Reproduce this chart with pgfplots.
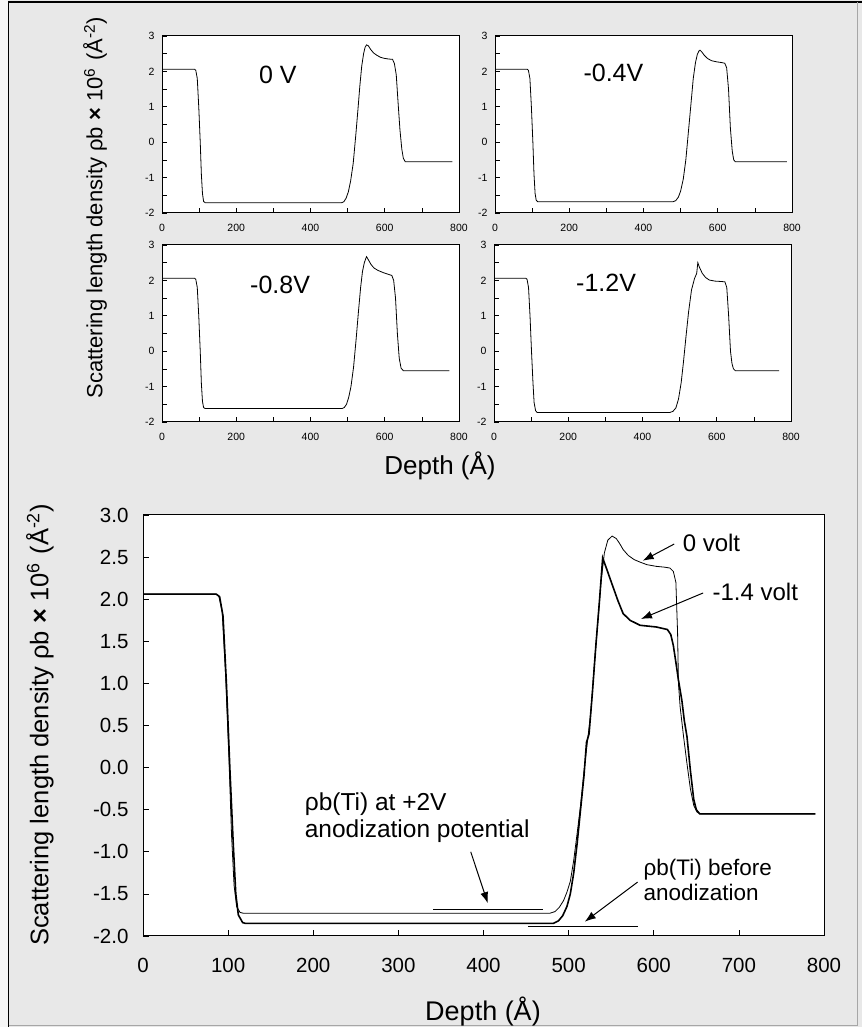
\documentclass[border=0pt]{standalone}
\usepackage{fontspec}
\setmainfont{Liberation Sans}
\usepackage{pgfplots}
\pgfplotsset{compat=1.18}
\usetikzlibrary{arrows.meta}
\definecolor{bg}{RGB}{232,232,232}

\tikzset{panellabel/.style={font=\fontsize{25}{30}\selectfont},
  prof/.style={black, line width=0.8pt, mark=none}}
\pgfplotsset{
 panel/.style={scale only axis, width=297pt, height=177pt, anchor=south west,
  xmin=0,xmax=800,ymin=-2,ymax=3,
  xtick={0,200,...,800}, minor xtick={100,300,500,700},
  ytick={-2,...,3}, minor ytick={-1.5,-0.5,0.5,1.5,2.5},
  tick align=inside, tick pos=left,
  major tick length=5pt, minor tick length=5pt,
  axis line style={line width=1pt},
  every tick/.style={black, line width=0.6pt},
  tick label style={font=\fontsize{10.5}{12}\selectfont},
  xticklabel style={yshift=-8pt}, yticklabel style={xshift=-4pt},
  /pgf/number format/assume math mode=true,
  axis background/.style={fill=white},
 },
}

\begin{document}
\begin{tikzpicture}
\useasboundingbox (0pt,0pt) rectangle (862pt,1027pt);
\fill[bg] (0pt,0pt) rectangle (862pt,1027pt);
\fill[white!60!bg] (0pt,0pt) rectangle (8pt,1027pt);
\draw[black, line width=1.5pt] (8.5pt,0pt) -- (8.5pt,1025pt) -- (862pt,1025pt);
\draw[black!35, line width=1pt] (857pt,1025pt) -- (857pt,1pt) -- (8.5pt,1pt);

% ---- top-left 0 V
\begin{axis}[panel, at={(162pt,814pt)}]
\addplot[prof] coordinates {(0,2.06) (88,2.06) (91,2.03) (95,1.8) (99,1.0) (103,0.0) (106,-0.9) (109,-1.45) (112,-1.67) (116,-1.71) (484,-1.71) (490,-1.68) (496,-1.58) (502,-1.4) (508,-1.1) (515,-0.6) (522,0.2) (528,0.95) (533,1.6) (538,2.15) (543,2.5) (547,2.68) (551,2.75) (556,2.72) (562,2.62) (570,2.52) (578,2.46) (588,2.4) (598,2.37) (610,2.35) (621,2.34) (626,2.22) (631,1.9) (636,1.1) (641,0.34) (646,-0.2) (650,-0.45) (655,-0.55) (782,-0.55)};
\node[panellabel] at (axis cs:312,1.9) {0 V};
\end{axis}

% ---- top-right -0.4V
\begin{axis}[panel, at={(495pt,814pt)}]
\addplot[prof] coordinates {(0,2.06) (87,2.06) (90,2.03) (94,1.8) (98,1.0) (102,0.0) (105,-0.9) (108,-1.45) (111,-1.64) (115,-1.68) (480,-1.68) (487,-1.65) (494,-1.55) (500,-1.38) (507,-1.05) (514,-0.5) (521,0.3) (528,1.1) (534,1.8) (540,2.25) (545,2.48) (549,2.57) (552,2.6) (557,2.55) (564,2.45) (573,2.36) (584,2.3) (597,2.27) (610,2.25) (619,2.23) (624,2.1) (629,1.5) (634,0.4) (639,-0.25) (643,-0.5) (647,-0.55) (786,-0.55)};
\node[panellabel] at (axis cs:319,1.95) {-0.4V};
\end{axis}

% ---- bottom-left -0.8V
\begin{axis}[panel, at={(162pt,605pt)}]
\addplot[prof] coordinates {(0,2.06) (88,2.06) (91,2.03) (95,1.8) (99,1.0) (103,0.0) (106,-0.9) (109,-1.42) (112,-1.59) (116,-1.62) (485,-1.62) (491,-1.59) (497,-1.5) (503,-1.3) (509,-1.0) (516,-0.45) (523,0.35) (529,1.1) (535,1.8) (540,2.25) (545,2.5) (549,2.62) (551,2.67) (556,2.58) (563,2.45) (571,2.35) (582,2.28) (596,2.22) (610,2.17) (619,2.14) (624,2.0) (629,1.5) (634,0.5) (639,-0.2) (644,-0.48) (650,-0.55) (774,-0.55)};
\node[panellabel] at (axis cs:318,1.87) {-0.8V};
\end{axis}

% ---- bottom-right -1.2V
\begin{axis}[panel, at={(494pt,605pt)}]
\addplot[prof] coordinates {(0,2.06) (86,2.06) (89,2.03) (93,1.8) (97,1.0) (101,0.0) (105,-0.9) (108,-1.45) (112,-1.68) (116,-1.73) (474,-1.73) (482,-1.7) (490,-1.6) (497,-1.35) (504,-0.9) (510,-0.34) (517,0.4) (524,1.1) (532,1.73) (540,2.05) (546,2.2) (548,2.4) (549,2.5) (553,2.38) (561,2.2) (570,2.08) (580,2.01) (595,1.98) (610,1.97) (622,1.96) (627,1.8) (632,1.0) (637,0.0) (641,-0.35) (645,-0.5) (650,-0.55) (768,-0.55)};
\node[panellabel] at (axis cs:302,1.92) {-1.2V};
\end{axis}

% shared labels of the upper panels
\node[rotate=90, font=\fontsize{22}{26}\selectfont] at (95pt,819pt) {Scattering length density ρb \textbf{×} 10\textsuperscript{6}\,\,(Å\textsuperscript{-2})};
\node[font=\fontsize{26}{30}\selectfont] at (440pt,561pt) {Depth (Å)};

% ---- main plot
\begin{axis}[scale only axis, width=681pt, height=421pt, anchor=south west, at={(143pt,91pt)},
  xmin=0, xmax=800, ymin=-2, ymax=3,
  xtick={0,100,...,800}, ytick={-2,-1.5,...,3},
  tick align=inside, tick pos=left, major tick length=6pt,
  axis line style={line width=1pt},
  every tick/.style={black, line width=0.7pt},
  tick label style={font=\fontsize{20.5}{24}\selectfont},
  yticklabel style={/pgf/number format/.cd, fixed, fixed zerofill, precision=1, /tikz/.cd, xshift=-11pt},
  xticklabel style={yshift=-19pt},
  /pgf/number format/assume math mode=true,
  axis background/.style={fill=white},
  clip=false,
]
% 0 volt (thin)
\addplot[black, line width=0.8pt] coordinates {(0,2.06) (86,2.06) (89,2.04) (93,1.85) (97,1.1) (101,0.1) (104,-0.8) (107,-1.4) (110,-1.65) (114,-1.72) (118,-1.73) (478,-1.73) (484,-1.71) (489,-1.66) (494,-1.58) (498,-1.48) (502,-1.35) (506,-1.1) (510,-0.78) (514,-0.45) (518,-0.05) (522,0.3) (526,0.65) (530,1.2) (534,1.7) (538,2.2) (542,2.55) (546,2.7) (551,2.75) (556,2.72) (560,2.66) (564,2.59) (570,2.52) (577,2.47) (584,2.44) (592,2.41) (603,2.39) (613,2.38) (619,2.37) (623,2.33) (626,2.2) (628,1.6) (629,1.0) (631,0.72) (635,0.37) (639,0.05) (643,-0.25) (647,-0.45) (651,-0.53) (655,-0.55) (790,-0.55)};
% -1.4 volt (thick)
\addplot[black, line width=1.6pt] coordinates {(0,2.06) (86,2.06) (90,2.03) (94,1.8) (98,1.0) (102,0.0) (106,-0.9) (109,-1.5) (112,-1.75) (117,-1.84) (120,-1.85) (482,-1.85) (488,-1.82) (493,-1.76) (498,-1.65) (502,-1.5) (506,-1.25) (510,-0.9) (514,-0.5) (518,-0.1) (521,0.3) (524,0.4) (528,0.9) (532,1.45) (536,1.95) (540,2.49) (545,2.35) (552,2.15) (558,1.98) (564,1.83) (572,1.75) (584,1.69) (603,1.67) (616,1.64) (620,1.58) (623,1.45) (626,1.25) (629,1.04) (633,0.8) (636,0.55) (639,0.37) (643,-0.03) (647,-0.38) (650,-0.5) (654,-0.55) (790,-0.55)};
% reference levels
\addplot[black, line width=0.8pt] coordinates {(341,-1.68) (470,-1.68)};
\addplot[black, line width=0.8pt] coordinates {(452,-1.89) (581,-1.89)};
% annotations
\node[anchor=west, align=left, font=\fontsize{24.5}{27}\selectfont] at (axis cs:186,-0.6) {ρb(Ti) at +2V\\anodization potential};
\node[anchor=west, align=left, font=\fontsize{22.5}{25}\selectfont] at (axis cs:584,-1.33) {ρb(Ti) before\\anodization};
\node[anchor=west, font=\fontsize{24}{28}\selectfont] at (axis cs:630,2.67) {0 volt};
\node[anchor=west, font=\fontsize{24}{28}\selectfont] at (axis cs:665,2.085) {-1.4 volt};
\draw[-{Latex[length=11pt,width=8pt]}, line width=1pt] (axis cs:385,-1.0) -- (axis cs:405,-1.61);
\draw[-{Latex[length=11pt,width=8pt]}, line width=1pt] (axis cs:581,-1.36) -- (axis cs:519,-1.83);
\draw[-{Latex[length=11pt,width=8pt]}, line width=1pt] (axis cs:624,2.655) -- (axis cs:587,2.457);
\draw[-{Latex[length=11pt,width=8pt]}, line width=1pt] (axis cs:658,2.074) -- (axis cs:585,1.765);
\end{axis}
\node[font=\fontsize{27}{30}\selectfont] at (483pt,15pt) {Depth (Å)};
\node[rotate=90, font=\fontsize{25.5}{30}\selectfont] at (40pt,302pt) {Scattering length density ρb \textbf{×} 10\textsuperscript{6}\,\,(Å\textsuperscript{-2})};
\end{tikzpicture}
\end{document}
